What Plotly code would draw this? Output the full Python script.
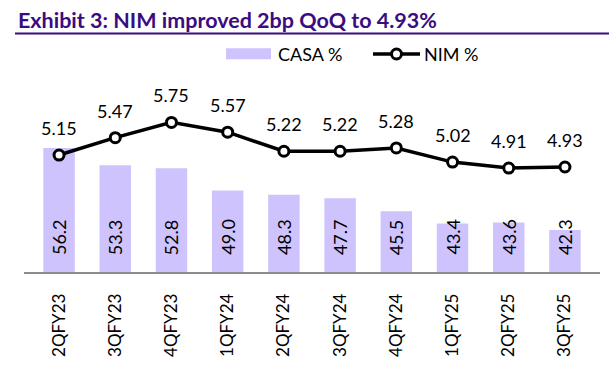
import plotly.graph_objects as go

categories = ["2QFY23", "3QFY23", "4QFY23", "1QFY24", "2QFY24", "3QFY24", "4QFY24", "1QFY25", "2QFY25", "3QFY25"]
casa = [56.2, 53.3, 52.8, 49.0, 48.3, 47.7, 45.5, 43.4, 43.6, 42.3]
nim = [5.15, 5.47, 5.75, 5.57, 5.22, 5.22, 5.28, 5.02, 4.91, 4.93]

W, H = 613, 366
L, R, T, B = 24, 13, 80, 94
PW, PH = W - L - R, H - T - B

def px(x):
    return (x - L) / PW

def py(y):
    return (H - B - y) / PH

FONT = "Lato"
PURPLE = "#3B0C80"
BAR = "#CEC3FC"

fig = go.Figure()
fig.add_trace(go.Bar(
    x=categories, y=casa, name="CASA %", marker=dict(color=BAR, line=dict(width=0)),
    yaxis="y", showlegend=False, hoverinfo="skip",
))
fig.add_trace(go.Scatter(
    x=categories, y=nim, name="NIM %", yaxis="y2", mode="lines+markers",
    line=dict(color="black", width=3.5),
    marker=dict(size=10, color="white", line=dict(color="black", width=3)),
    showlegend=False, cliponaxis=False,
))

ymin1 = 35.2
ymin2 = 3.0
fig.update_layout(
    width=W, height=H,
    margin=dict(l=L, r=R, t=T, b=B, autoexpand=False),
    paper_bgcolor="white", plot_bgcolor="white",
    bargap=0.44,
    showlegend=False,
    xaxis=dict(
        type="category", showline=True, linecolor="#8C8C8C", linewidth=1.5,
        ticks="", tickangle=-90, tickfont=dict(family=FONT, size=17, color="black"),
        ticklabelstandoff=13, showgrid=False, zeroline=False, automargin=False,
    ),
    yaxis=dict(range=[ymin1, ymin1 + PH / 5.9], visible=False, showgrid=False, automargin=False),
    yaxis2=dict(range=[ymin2, ymin2 + PH / 54.4], visible=False, overlaying="y", showgrid=False,
                automargin=False),
    font=dict(family=FONT, color="black"),
)

annotations = []
# Bar value labels
for c, v in zip(categories, casa):
    annotations.append(dict(
        x=c, y=ymin1, xref="x", yref="y", text=f"{v:.1f}", textangle=-90,
        showarrow=False, yanchor="bottom", xanchor="center", yshift=15,
        font=dict(family=FONT, size=18, color="black"),
    ))
# Line value labels
for c, v in zip(categories, nim):
    annotations.append(dict(
        x=c, y=v, xref="x", yref="y2", text=f"{v:.2f}",
        showarrow=False, yanchor="middle", xanchor="center", yshift=27,
        font=dict(family=FONT, size=18, color="black"),
    ))

# Title
annotations.append(dict(
    x=px(16), y=py(20), xref="paper", yref="paper", xanchor="left", yanchor="middle",
    text="<b>Exhibit 3: NIM improved 2bp QoQ to 4.93%</b>", showarrow=False,
    font=dict(family=FONT, size=21.5, color=PURPLE),
))
# Legend texts
annotations.append(dict(
    x=px(276), y=py(54), xref="paper", yref="paper", xanchor="left", yanchor="middle",
    text="CASA %", showarrow=False, font=dict(family=FONT, size=18, color="black"),
))
annotations.append(dict(
    x=px(422), y=py(54), xref="paper", yref="paper", xanchor="left", yanchor="middle",
    text="NIM %", showarrow=False, font=dict(family=FONT, size=18, color="black"),
))

shapes = [
    # Title underline
    dict(type="line", xref="paper", yref="paper", x0=px(15), x1=px(609), y0=py(33.5), y1=py(33.5),
         line=dict(color=PURPLE, width=2)),
    # Legend swatch
    dict(type="rect", xref="paper", yref="paper", x0=px(226), x1=px(271), y0=py(59.3), y1=py(48.3),
         fillcolor=BAR, line=dict(width=0)),
    # Legend line
    dict(type="line", xref="paper", yref="paper", x0=px(373), x1=px(420), y0=py(54), y1=py(54),
         line=dict(color="black", width=3.5)),
    dict(type="circle", xref="paper", yref="paper", x0=px(391.5), x1=px(401.5), y0=py(59), y1=py(49),
         fillcolor="white", line=dict(color="black", width=3)),
]

fig.update_layout(annotations=annotations, shapes=shapes)
fig.write_html(
    "out.html",
    config={"displayModeBar": False},
    post_script="document.body.style.margin='0';document.body.style.overflow='hidden';",
)
